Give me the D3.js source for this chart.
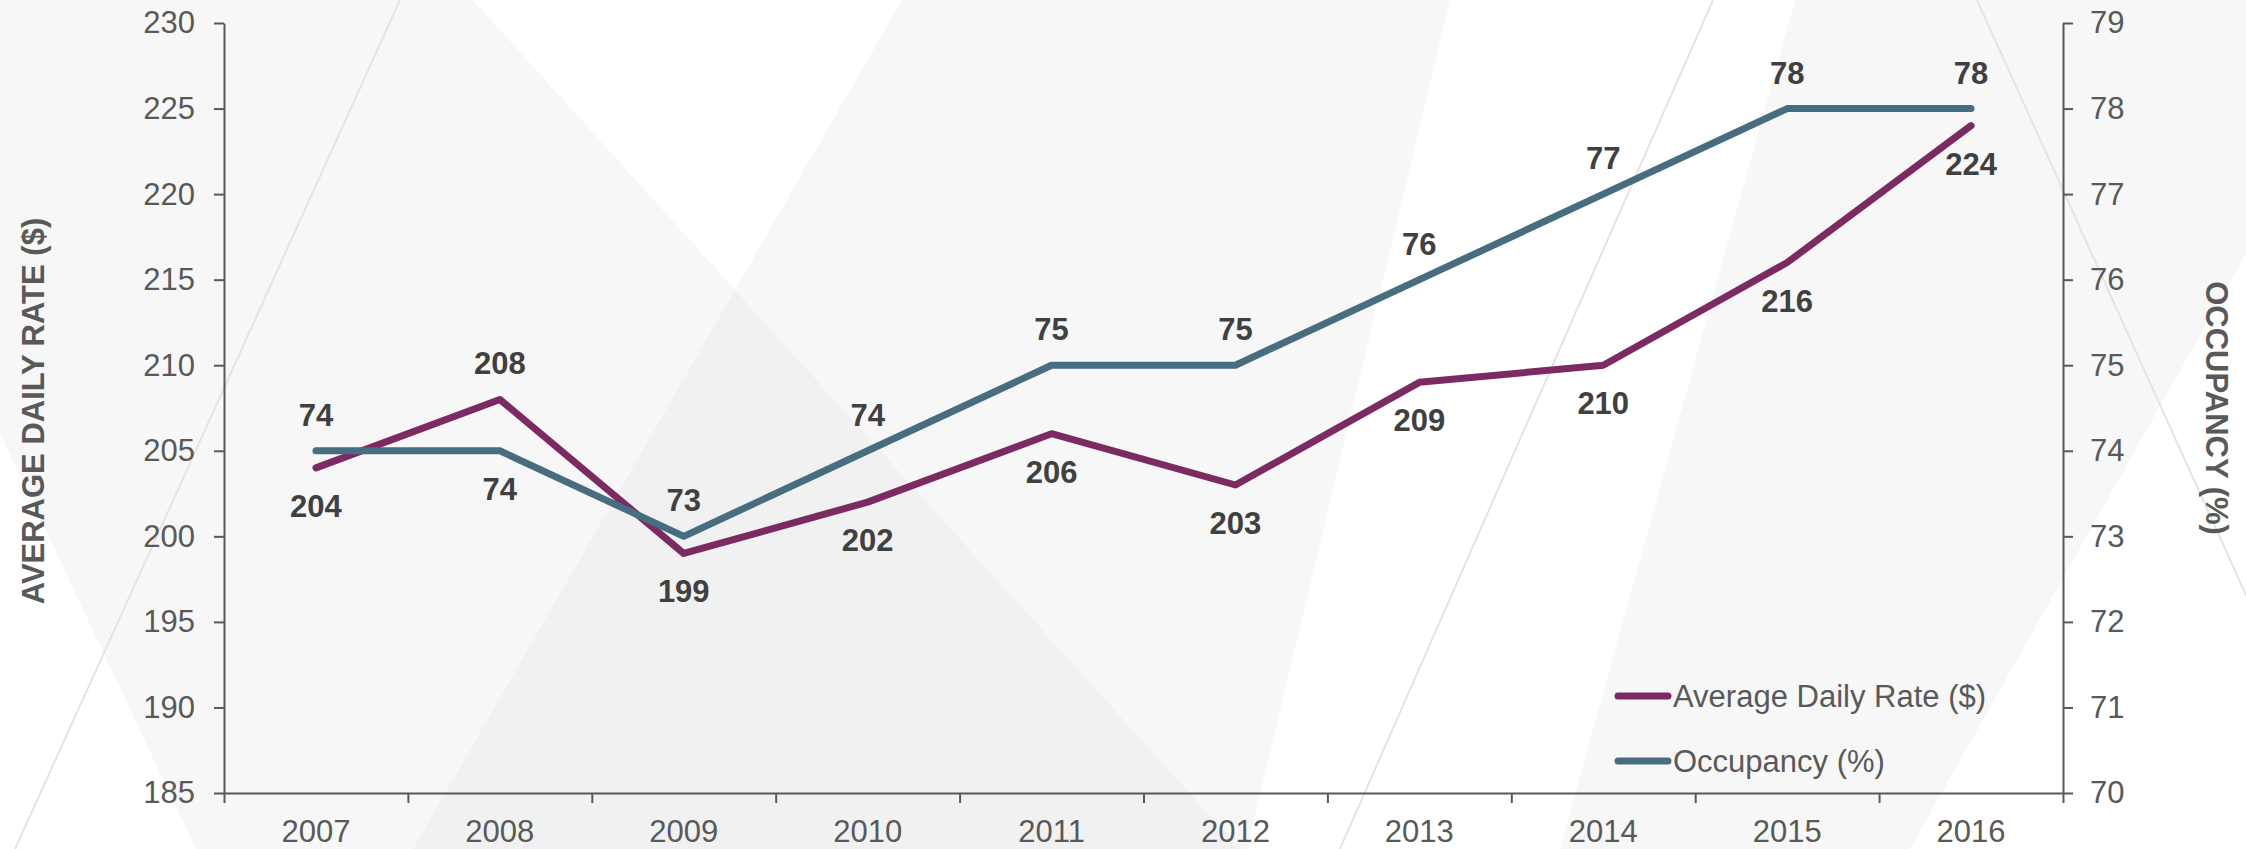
<!DOCTYPE html>
<html>
<head>
<meta charset="utf-8">
<script src="https://cdn.jsdelivr.net/npm/d3@7"></script>
<style>
  html, body { margin: 0; padding: 0; background: #f7f7f7; }
  svg { display: block; font-family: "Liberation Sans", Arial, sans-serif; }
</style>
</head>
<body>
<div id="vizcont"></div>
<script>
// data
var years = ["2007", "2008", "2009", "2010", "2011", "2012", "2013", "2014", "2015", "2016"];
var adr = [204, 208, 199, 202, 206, 203, 209, 210, 216, 224];
var occupancy = [74, 74, 73, 74, 75, 75, 76, 77, 78, 78];
// where each data label sits relative to its point
var adrLabelSide = ["below", "above", "below", "below", "below", "below", "below", "below", "below", "below"];
var occLabelSide = ["above", "below", "above", "above", "above", "above", "above", "above", "above", "above"];
var adrTicks = [185, 190, 195, 200, 205, 210, 215, 220, 225, 230];
var occTicks = [70, 71, 72, 73, 74, 75, 76, 77, 78, 79];

var W = 2246, H = 849;
var margin = {top: 23, right: 183, bottom: 56, left: 224};
var width = W - margin.left - margin.right;
var height = H - margin.top - margin.bottom;

var purple = "#7b2a62", teal = "#476e80";
var axisColor = "#595959", labelColor = "#404040";

var svg = d3.select("#vizcont")
  .append("svg")
  .attr("width", W)
  .attr("height", H);

// background decoration (light geometric shapes)
var bg = svg.append("g");
bg.append("rect").attr("width", W).attr("height", H).attr("fill", "#f7f7f7");
var shapes = [
  {pts: [[473, 0], [902, 0], [735, 290]], fill: "#ffffff"},
  {pts: [[735, 290], [1240, 849], [413, 849]], fill: "#f1f1f1"},
  {pts: [[1450, 0], [1795, 0], [1560, 849], [1247, 849]], fill: "#ffffff"},
  {pts: [[2246, 254], [2246, 849], [1910, 849]], fill: "#ffffff"},
  {pts: [[0, 433], [196, 849], [0, 849]], fill: "#ffffff"}
];
shapes.forEach(function(s) {
  bg.append("polygon")
    .attr("points", s.pts.map(function(p) { return p.join(","); }).join(" "))
    .attr("fill", s.fill);
});
var thin = [[400, 0, 15, 849], [1713, 0, 1340, 849], [1977, 0, 2246, 595]];
thin.forEach(function(l) {
  bg.append("line")
    .attr("x1", l[0]).attr("y1", l[1]).attr("x2", l[2]).attr("y2", l[3])
    .attr("stroke", "#e4e4e4")
    .style("stroke-width", "2px");
});

var g = svg.append("g")
  .attr("transform", "translate(" + margin.left + "," + margin.top + ")");

// scales
var x = d3.scaleBand().domain(years).range([0, width]).padding(0);
var xEdge = d3.scaleLinear().domain([0, years.length]).range([0, width]);
var yL = d3.scaleLinear().domain([185, 230]).range([height, 0]);
var yR = d3.scaleLinear().domain([70, 79]).range([height, 0]);
function cx(d) { return x(d) + x.bandwidth() / 2; }

// axes
function styleAxis(sel) {
  sel.selectAll("path, line").attr("stroke", axisColor).style("stroke-width", "2px");
  sel.selectAll("text").attr("fill", axisColor).style("font-size", "31px");
}

g.append("g")
  .call(d3.axisLeft(yL).tickValues(adrTicks).tickSize(10).tickSizeOuter(0).tickPadding(19))
  .call(styleAxis);

g.append("g")
  .attr("transform", "translate(" + width + ",0)")
  .call(d3.axisRight(yR).tickValues(occTicks).tickSize(10).tickSizeOuter(0).tickPadding(17))
  .call(styleAxis);

// x axis: ticks at category boundaries, labels at centres
g.append("g")
  .attr("transform", "translate(0," + height + ")")
  .call(d3.axisBottom(xEdge).tickValues(d3.range(0, years.length + 1)).tickFormat("").tickSize(10).tickSizeOuter(0))
  .call(styleAxis);
g.append("g")
  .attr("transform", "translate(0," + height + ")")
  .call(d3.axisBottom(x).tickSize(0).tickPadding(27))
  .call(styleAxis)
  .call(function(a) { a.select(".domain").remove(); });

// axis titles
svg.append("text")
  .attr("transform", "translate(44," + (margin.top + height / 2 + 3) + ") rotate(-90)")
  .attr("text-anchor", "middle")
  .attr("fill", axisColor)
  .style("font-size", "31px")
  .style("font-weight", "bold")
  .text("AVERAGE DAILY RATE ($)");

svg.append("text")
  .attr("transform", "translate(2206," + (margin.top + height / 2) + ") rotate(90)")
  .attr("text-anchor", "middle")
  .attr("fill", axisColor)
  .style("font-size", "31px")
  .style("font-weight", "bold")
  .text("OCCUPANCY (%)");

// lines
var adrLine = d3.line()
  .x(function(d, i) { return cx(years[i]); })
  .y(function(d) { return yL(d); });
var occLine = d3.line()
  .x(function(d, i) { return cx(years[i]); })
  .y(function(d) { return yR(d); });

g.append("path")
  .datum(adr)
  .attr("d", adrLine)
  .attr("fill", "none")
  .attr("stroke", purple)
  .attr("stroke-linecap", "round")
  .attr("stroke-linejoin", "round")
  .style("stroke-width", "7px");

g.append("path")
  .datum(occupancy)
  .attr("d", occLine)
  .attr("fill", "none")
  .attr("stroke", teal)
  .attr("stroke-linecap", "round")
  .attr("stroke-linejoin", "round")
  .style("stroke-width", "7px");

// data labels
function addLabels(values, scale, sides) {
  g.append("g").selectAll("text")
    .data(values)
    .enter()
    .append("text")
    .attr("x", function(d, i) { return cx(years[i]); })
    .attr("y", function(d, i) { return scale(d) + (sides[i] === "above" ? -25 : 49); })
    .attr("text-anchor", "middle")
    .attr("fill", labelColor)
    .style("font-size", "31px")
    .style("font-weight", "bold")
    .text(function(d) { return d; });
}
addLabels(adr, yL, adrLabelSide);
addLabels(occupancy, yR, occLabelSide);

// legend
var legend = [
  {name: "Average Daily Rate ($)", color: purple},
  {name: "Occupancy (%)", color: teal}
];
var lg = svg.append("g");
legend.forEach(function(d, i) {
  var ly = 696 + i * 65;
  lg.append("line")
    .attr("x1", 1618).attr("x2", 1668)
    .attr("y1", ly).attr("y2", ly)
    .attr("stroke", d.color)
    .attr("stroke-linecap", "round")
    .style("stroke-width", "7px");
  lg.append("text")
    .attr("x", 1673)
    .attr("y", ly + 11)
    .attr("fill", axisColor)
    .style("font-size", "31px")
    .text(d.name);
});
</script>
</body>
</html>
